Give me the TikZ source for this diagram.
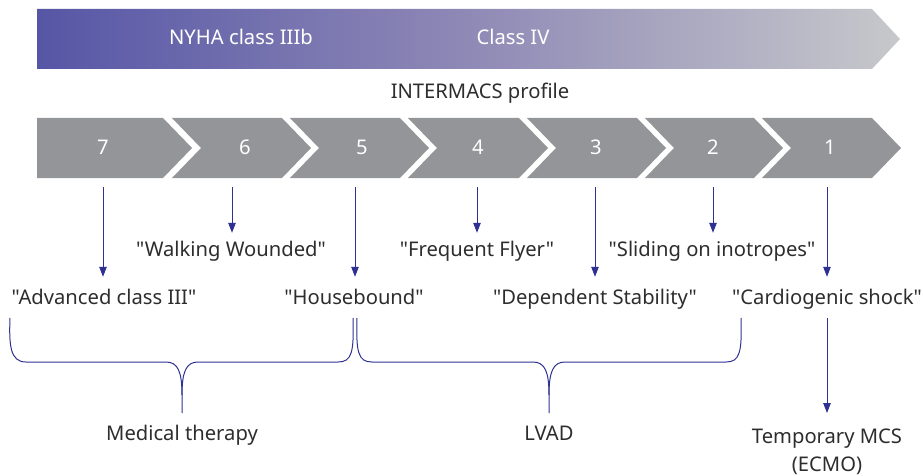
\documentclass[tikz,border=0pt]{standalone}
\usepackage{fontspec}
\setmainfont{Noto Sans}[Ligatures=TeXOff]
\usetikzlibrary{arrows.meta}
\definecolor{navy}{RGB}{46,49,146}
\definecolor{chev}{RGB}{147,149,152}
\definecolor{txt}{RGB}{45,45,45}
\definecolor{ga}{RGB}{86,86,166}
\definecolor{gb}{RGB}{143,137,182}
\definecolor{gc}{RGB}{199,200,203}
\pgfdeclarehorizontalshading{nyha}{100bp}{color(0bp)=(ga); color(25bp)=(ga); color(50bp)=(gb); color(75bp)=(gc); color(100bp)=(gc)}
\begin{document}
\begin{tikzpicture}[x=1pt,y=-1pt,
  lbl/.style={font=\fontsize{20.2}{23}\selectfont, text=txt, inner sep=0pt, anchor=base, text height=14pt},
  num/.style={font=\fontsize{20.2}{23}\selectfont, text=white, inner sep=0pt, anchor=base},
  arr/.style={draw=navy, line width=1pt, -{Triangle[width=7.5pt,length=10pt]}},
  brace/.style={draw=navy, line width=1pt},
  chevbox/.style={fill=chev}]
\path[use as bounding box] (0,0) rectangle (923,476);
% top gradient arrow
\path[shading=nyha] (37,9) -- (872,9) -- (900,39) -- (872,69) -- (37,69) -- cycle;
\node[num] (nyha) at (241,45) {NYHA class IIIb};
\node[num] (c4) at (513,45) {Class IV};
\node[lbl] (im) at (480,99) {INTERMACS profile};
% chevrons
\fill[chevbox] (37,118) -- (163,118) -- (192,148) -- (163,178) -- (37,178) -- cycle;
\foreach \L/\R in {172/282, 290/400, 408/519, 527/637, 645/754, 762/872}{
  \fill[chevbox] (\L,118) -- (\R,118) -- (\R+29,148) -- (\R,178) -- (\L,178) -- (\L+29,148) -- cycle;
}
\node[num] (n7) at (103,154) {7};
\node[num] (n6) at (245,154) {6};
\node[num] (n5) at (362,154) {5};
\node[num] (n4) at (478,154) {4};
\node[num] (n3) at (596,154) {3};
\node[num] (n2) at (713,154) {2};
\node[num] (n1) at (830,154) {1};
% starts of arrows
\coordinate (s7) at (103,187);
\coordinate (s6) at (232,187);
\coordinate (s5) at (355,187);
\coordinate (s4) at (477,187);
\coordinate (s3) at (595,187);
\coordinate (s2) at (713,187);
\coordinate (s1) at (827,187);
% labels
\node[lbl] (l7) at (104,304) {"Advanced class III"};
\node[lbl] (l6) at (231,256) {"Walking Wounded"};
\node[lbl] (l5) at (354,304) {"Housebound"};
\node[lbl] (l4) at (477,256) {"Frequent Flyer"};
\node[lbl] (l3) at (595,304) {"Dependent Stability"};
\node[lbl] (l2) at (712,256) {"Sliding on inotropes"};
\node[lbl] (l1) at (827,304) {"Cardiogenic shock"};
\draw[arr, shorten >=13pt] (s7) -- (s7 |- l7.north);
\draw[arr, shorten >=9pt] (s6) -- (s6 |- l6.north);
\draw[arr, shorten >=13pt] (s5) -- (s5 |- l5.north);
\draw[arr, shorten >=9pt] (s4) -- (s4 |- l4.north);
\draw[arr, shorten >=13pt] (s3) -- (s3 |- l3.north);
\draw[arr, shorten >=9pt] (s2) -- (s2 |- l2.north);
\draw[arr, shorten >=13pt] (s1) -- (s1 |- l1.north);
% bottom labels
\node[lbl] (med) at (182,440) {Medical therapy};
\node[lbl] (lvad) at (549,440) {LVAD};
\node[lbl, align=center, text height=, anchor=north] (tmcs) at (827,429) {Temporary MCS\\[5pt](ECMO)};
% braces
\draw[brace] (10,318) .. controls (9,345) and (10,362) .. (26,362) -- (166,362)
  .. controls (178,362) and (182,372) .. (182,395) -- (182,413);
\draw[brace] (182,395) .. controls (182,372) and (186,362) .. (198,362) -- (338,362)
  .. controls (352,362) and (354,352) .. (353,318);
\draw[brace] (357,318) .. controls (356,352) and (358,362) .. (372,362) -- (533,362)
  .. controls (545,362) and (549,372) .. (549,395) -- (549,413);
\draw[brace] (549,395) .. controls (549,372) and (553,362) .. (565,362) -- (726,362)
  .. controls (740,362) and (742,352) .. (741,318);
\coordinate (e1) at (827,318);
\draw[arr, shorten >=16pt] (e1) -- (tmcs.north);
\end{tikzpicture}
\end{document}
